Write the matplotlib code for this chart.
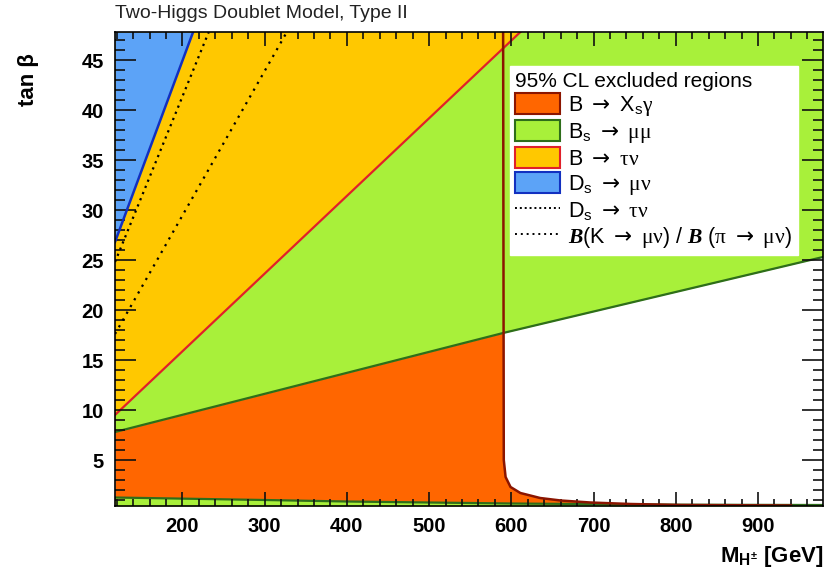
import matplotlib
matplotlib.use("Agg")
import matplotlib.pyplot as plt
from matplotlib.patches import Patch
from matplotlib.lines import Line2D
from matplotlib.ticker import MultipleLocator

plt.rcParams['font.family'] = ['Liberation Sans', 'DejaVu Sans']
plt.rcParams['mathtext.fontset'] = 'custom'
plt.rcParams['mathtext.rm'] = 'Liberation Sans'
plt.rcParams['mathtext.it'] = 'Liberation Sans:italic'
plt.rcParams['mathtext.bf'] = 'Liberation Sans:bold'
plt.rcParams['mathtext.sf'] = 'DejaVu Sans'
plt.rcParams['mathtext.tt'] = 'Liberation Serif'
if 'mathtext.bfit' in plt.rcParams:
    plt.rcParams['mathtext.bfit'] = 'Liberation Serif:italic:bold'

# axis ranges
m_lim = [118, 979]
tb_lim = [0.4, 47.8]

# B -> Xs gamma boundary (mass as function of tan beta)
xsg_tb = [0.45, 0.5, 0.6, 0.75, 0.95, 1.2, 1.7, 2.3, 3.3, 5.0, 47.8]
xsg_m = [940, 806, 745, 696, 660, 635, 611, 599, 593, 590.8, 590]

# Bs -> mu mu upper boundary
bsmm_up_m = [118, 590, 979]
bsmm_up_tb = [7.8, 17.7, 25.3]
# Bs -> mu mu lower boundary
bsmm_lo_m = [118, 300, 400, 500, 600, 800, 979]
bsmm_lo_tb = [1.25, 1.0, 0.85, 0.75, 0.65, 0.53, 0.5]

# B -> tau nu boundary
btn_m = [118, 611]
btn_tb = [9.5, 47.8]

# Ds -> mu nu boundary
dsmn_m = [118, 213]
dsmn_tb = [26.8, 47.8]

# Ds -> tau nu (dotted)
dstn_m = [118, 232]
dstn_tb = [24.8, 47.8]

# B(K->mu nu)/B(pi->mu nu) (dotted)
kpi_m = [118, 327]
kpi_tb = [17.6, 47.8]

x_ticks = [200, 300, 400, 500, 600, 700, 800, 900]
y_ticks = [5, 10, 15, 20, 25, 30, 35, 40, 45]

c_orange = '#FF6600'
c_orange_e = '#8B1500'
c_green = '#A8F03A'
c_green_e = '#2E6E1A'
c_yellow = '#FFC800'
c_yellow_e = '#E0202A'
c_blue = '#5CA3F7'
c_blue_e = '#1230C0'

fig = plt.figure(figsize=(8.25, 5.72), dpi=100)
ax = fig.add_axes([115/825, 1-506/572, 708/825, 474/572])
ax.set_xlim(m_lim)
ax.set_ylim(tb_lim)
top = tb_lim[1]
bot = tb_lim[0]

# fills (kept below the axis ticks, zorder 2.5)
ax.fill_betweenx(xsg_tb, m_lim[0], xsg_m, color=c_orange, lw=0, zorder=1.0)
ax.fill_between(bsmm_up_m, bsmm_up_tb, top, color=c_green, lw=0, zorder=1.1)
ax.fill_between(bsmm_lo_m, bot, bsmm_lo_tb, color=c_green, lw=0, zorder=1.1)
ax.fill_between(btn_m, btn_tb, top, color=c_yellow, lw=0, zorder=1.2)
ax.fill_between(dsmn_m, dsmn_tb, top, color=c_blue, lw=0, zorder=1.3)

# boundary lines
ax.plot(bsmm_up_m, bsmm_up_tb, color=c_green_e, lw=1.6, zorder=1.5)
ax.plot(bsmm_lo_m, bsmm_lo_tb, color=c_green_e, lw=1.6, zorder=1.5)
ax.plot(btn_m, btn_tb, color=c_yellow_e, lw=1.6, zorder=1.5)
ax.plot(xsg_m, xsg_tb, color=c_orange_e, lw=1.8, zorder=1.6)
ax.plot(dsmn_m, dsmn_tb, color=c_blue_e, lw=1.8, zorder=1.6)
ax.plot(dstn_m, dstn_tb, color='black', lw=1.6, ls=(0, (1, 2)), zorder=1.6)
ax.plot(kpi_m, kpi_tb, color='black', lw=1.6, ls=(0, (1, 2.5)), zorder=1.6)

# ticks
ax.set_xticks(x_ticks)
ax.set_yticks(y_ticks)
ax.xaxis.set_minor_locator(MultipleLocator(20))
ax.yaxis.set_minor_locator(MultipleLocator(1))
ax.tick_params(axis='both', which='both', direction='in', top=True, right=True,
               width=1.2, color='#111111')
ax.tick_params(axis='x', which='major', length=10, labelsize=14.5, pad=8)
ax.tick_params(axis='x', which='minor', length=5)
ax.tick_params(axis='y', which='major', length=15, labelsize=14.5, pad=8)
ax.tick_params(axis='y', which='minor', length=7.5)
for lab in ax.get_xticklabels() + ax.get_yticklabels():
    lab.set_fontweight('bold')
for sp in ax.spines.values():
    sp.set_linewidth(1.2)

ax.set_xlabel(r'$\mathbf{M_{H^{\pm}}}$ [GeV]', loc='right', fontsize=16,
              fontweight='bold', labelpad=6)
ax.set_ylabel('tan β', loc='top', fontsize=16, fontweight='bold')
ax.yaxis.set_label_coords(-0.108, 0.955)

fig.text(115/825, 1-14/572, 'Two-Higgs Doublet Model, Type II', fontsize=14,
         ha='left', va='center', color='#222222')

handles = [
    Patch(facecolor=c_orange, edgecolor=c_orange_e, lw=1.5),
    Patch(facecolor=c_green, edgecolor=c_green_e, lw=1.5),
    Patch(facecolor=c_yellow, edgecolor=c_yellow_e, lw=1.5),
    Patch(facecolor=c_blue, edgecolor=c_blue_e, lw=1.5),
    Line2D([], [], color='black', lw=1.4, ls=(0, (1, 1.5))),
    Line2D([], [], color='black', lw=1.4, ls=(0, (1, 2))),
]
arr = r'$\mathsf{\rightarrow}$'
labels = [
    r'B ' + arr + r' X$_\mathregular{s}\mathtt{γ}$',
    r'B$_\mathregular{s}$ ' + arr + r' $\mathtt{μμ}$',
    r'B ' + arr + r' $\mathtt{τν}$',
    r'D$_\mathregular{s}$ ' + arr + r' $\mathtt{μν}$',
    r'D$_\mathregular{s}$ ' + arr + r' $\mathtt{τν}$',
    r'$\mathbfit{B}$(K ' + arr + r' $\mathtt{μν}$) / $\mathbfit{B}$ ($\mathtt{π}$ '
    + arr + r' $\mathtt{μν}$)',
]
leg = ax.legend(handles, labels, title='95% CL excluded regions',
                loc='upper left', bbox_to_anchor=(0.558, 0.928),
                frameon=True, fancybox=False, edgecolor='white', facecolor='white',
                framealpha=1, fontsize=15.5, title_fontsize=15,
                handlelength=2.05, handleheight=1.15, labelspacing=0.1,
                borderpad=0.25, handletextpad=0.4, borderaxespad=0,
                alignment='left')
leg.set_zorder(20)

fig.savefig('out.png', dpi=100, facecolor='white')
